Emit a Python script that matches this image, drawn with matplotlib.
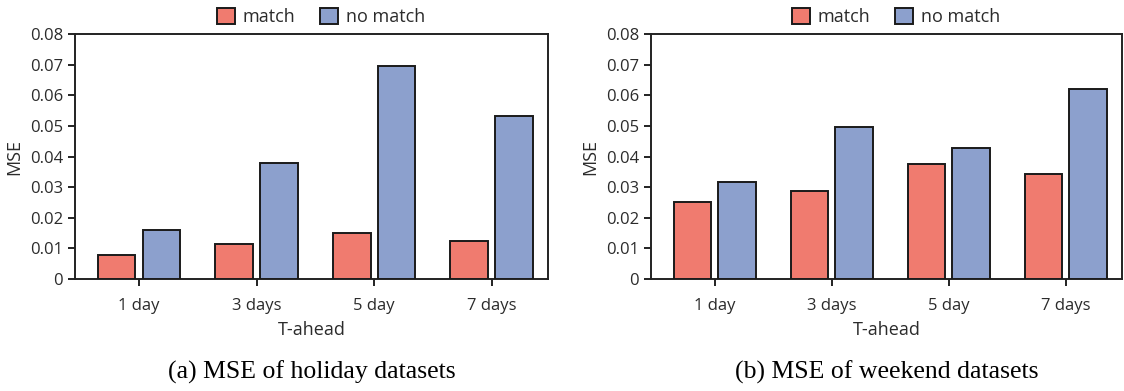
import matplotlib
matplotlib.use("Agg")
import matplotlib.pyplot as plt
import numpy as np

# T-ahead categories
categories = ["1 day", "3 days", "5 day", "7 days"]
# holiday datasets
holiday_match = [0.0080, 0.0115, 0.0149, 0.0123]
holiday_nomatch = [0.0160, 0.0378, 0.0695, 0.0532]
# weekend datasets
weekend_match = [0.0253, 0.0288, 0.0375, 0.0343]
weekend_nomatch = [0.0318, 0.0497, 0.0428, 0.0620]
yticks = [0, 0.01, 0.02, 0.03, 0.04, 0.05, 0.06, 0.07, 0.08]
ytick_labels = ["0", "0.01", "0.02", "0.03", "0.04", "0.05", "0.06", "0.07", "0.08"]

RED = "#F07B6F"
BLUE = "#8CA0CD"
TXT = "#2b2b2b"

plt.rcParams["font.family"] = ["Open Sans", "DejaVu Sans"]

fig = plt.figure(figsize=(11.24, 3.91), dpi=100)
ax1 = fig.add_axes([0.0667, 0.2864, 0.4208, 0.6266])
ax2 = fig.add_axes([0.5792, 0.2864, 0.4190, 0.6266])

x = np.arange(len(categories))
w = 0.32
off = 0.19

for ax, m, nm, cap in [(ax1, holiday_match, holiday_nomatch, "(a) MSE of holiday datasets"),
                       (ax2, weekend_match, weekend_nomatch, "(b) MSE of weekend datasets")]:
    ax.bar(x - off, m, w, color=RED, edgecolor="#1a1a1a", linewidth=1.4, label="match", zorder=3)
    ax.bar(x + off, nm, w, color=BLUE, edgecolor="#1a1a1a", linewidth=1.4, label="no match", zorder=3)
    ax.set_xlim(-0.545, 3.48)
    ax.set_ylim(0, 0.08)
    ax.set_yticks(yticks)
    ax.set_yticklabels(ytick_labels)
    ax.set_xticks(x)
    ax.set_xticklabels(categories)
    ax.tick_params(axis="both", direction="out", length=5, width=1.4, colors="#222222",
                   labelsize=12, labelcolor=TXT)
    ax.tick_params(axis="x", pad=9)
    for s in ax.spines.values():
        s.set_linewidth(1.4)
        s.set_color("#222222")
    ax.set_xlabel("T-ahead", fontsize=13, color=TXT, labelpad=5)
    ax.set_ylabel("MSE", fontsize=13, color=TXT, labelpad=5)
    ax.legend(loc="lower center", bbox_to_anchor=(0.52, 0.995), ncol=2, frameon=False,
              fontsize=13, handlelength=1.0, handleheight=1.0, handletextpad=0.4,
              columnspacing=1.4, labelcolor=TXT, borderaxespad=0.1)
    ax.text(0.5, -0.38, cap, transform=ax.transAxes, ha="center", va="center",
            fontsize=18.5, family="Liberation Serif", color="black")

fig.savefig("out.png", dpi=100)
